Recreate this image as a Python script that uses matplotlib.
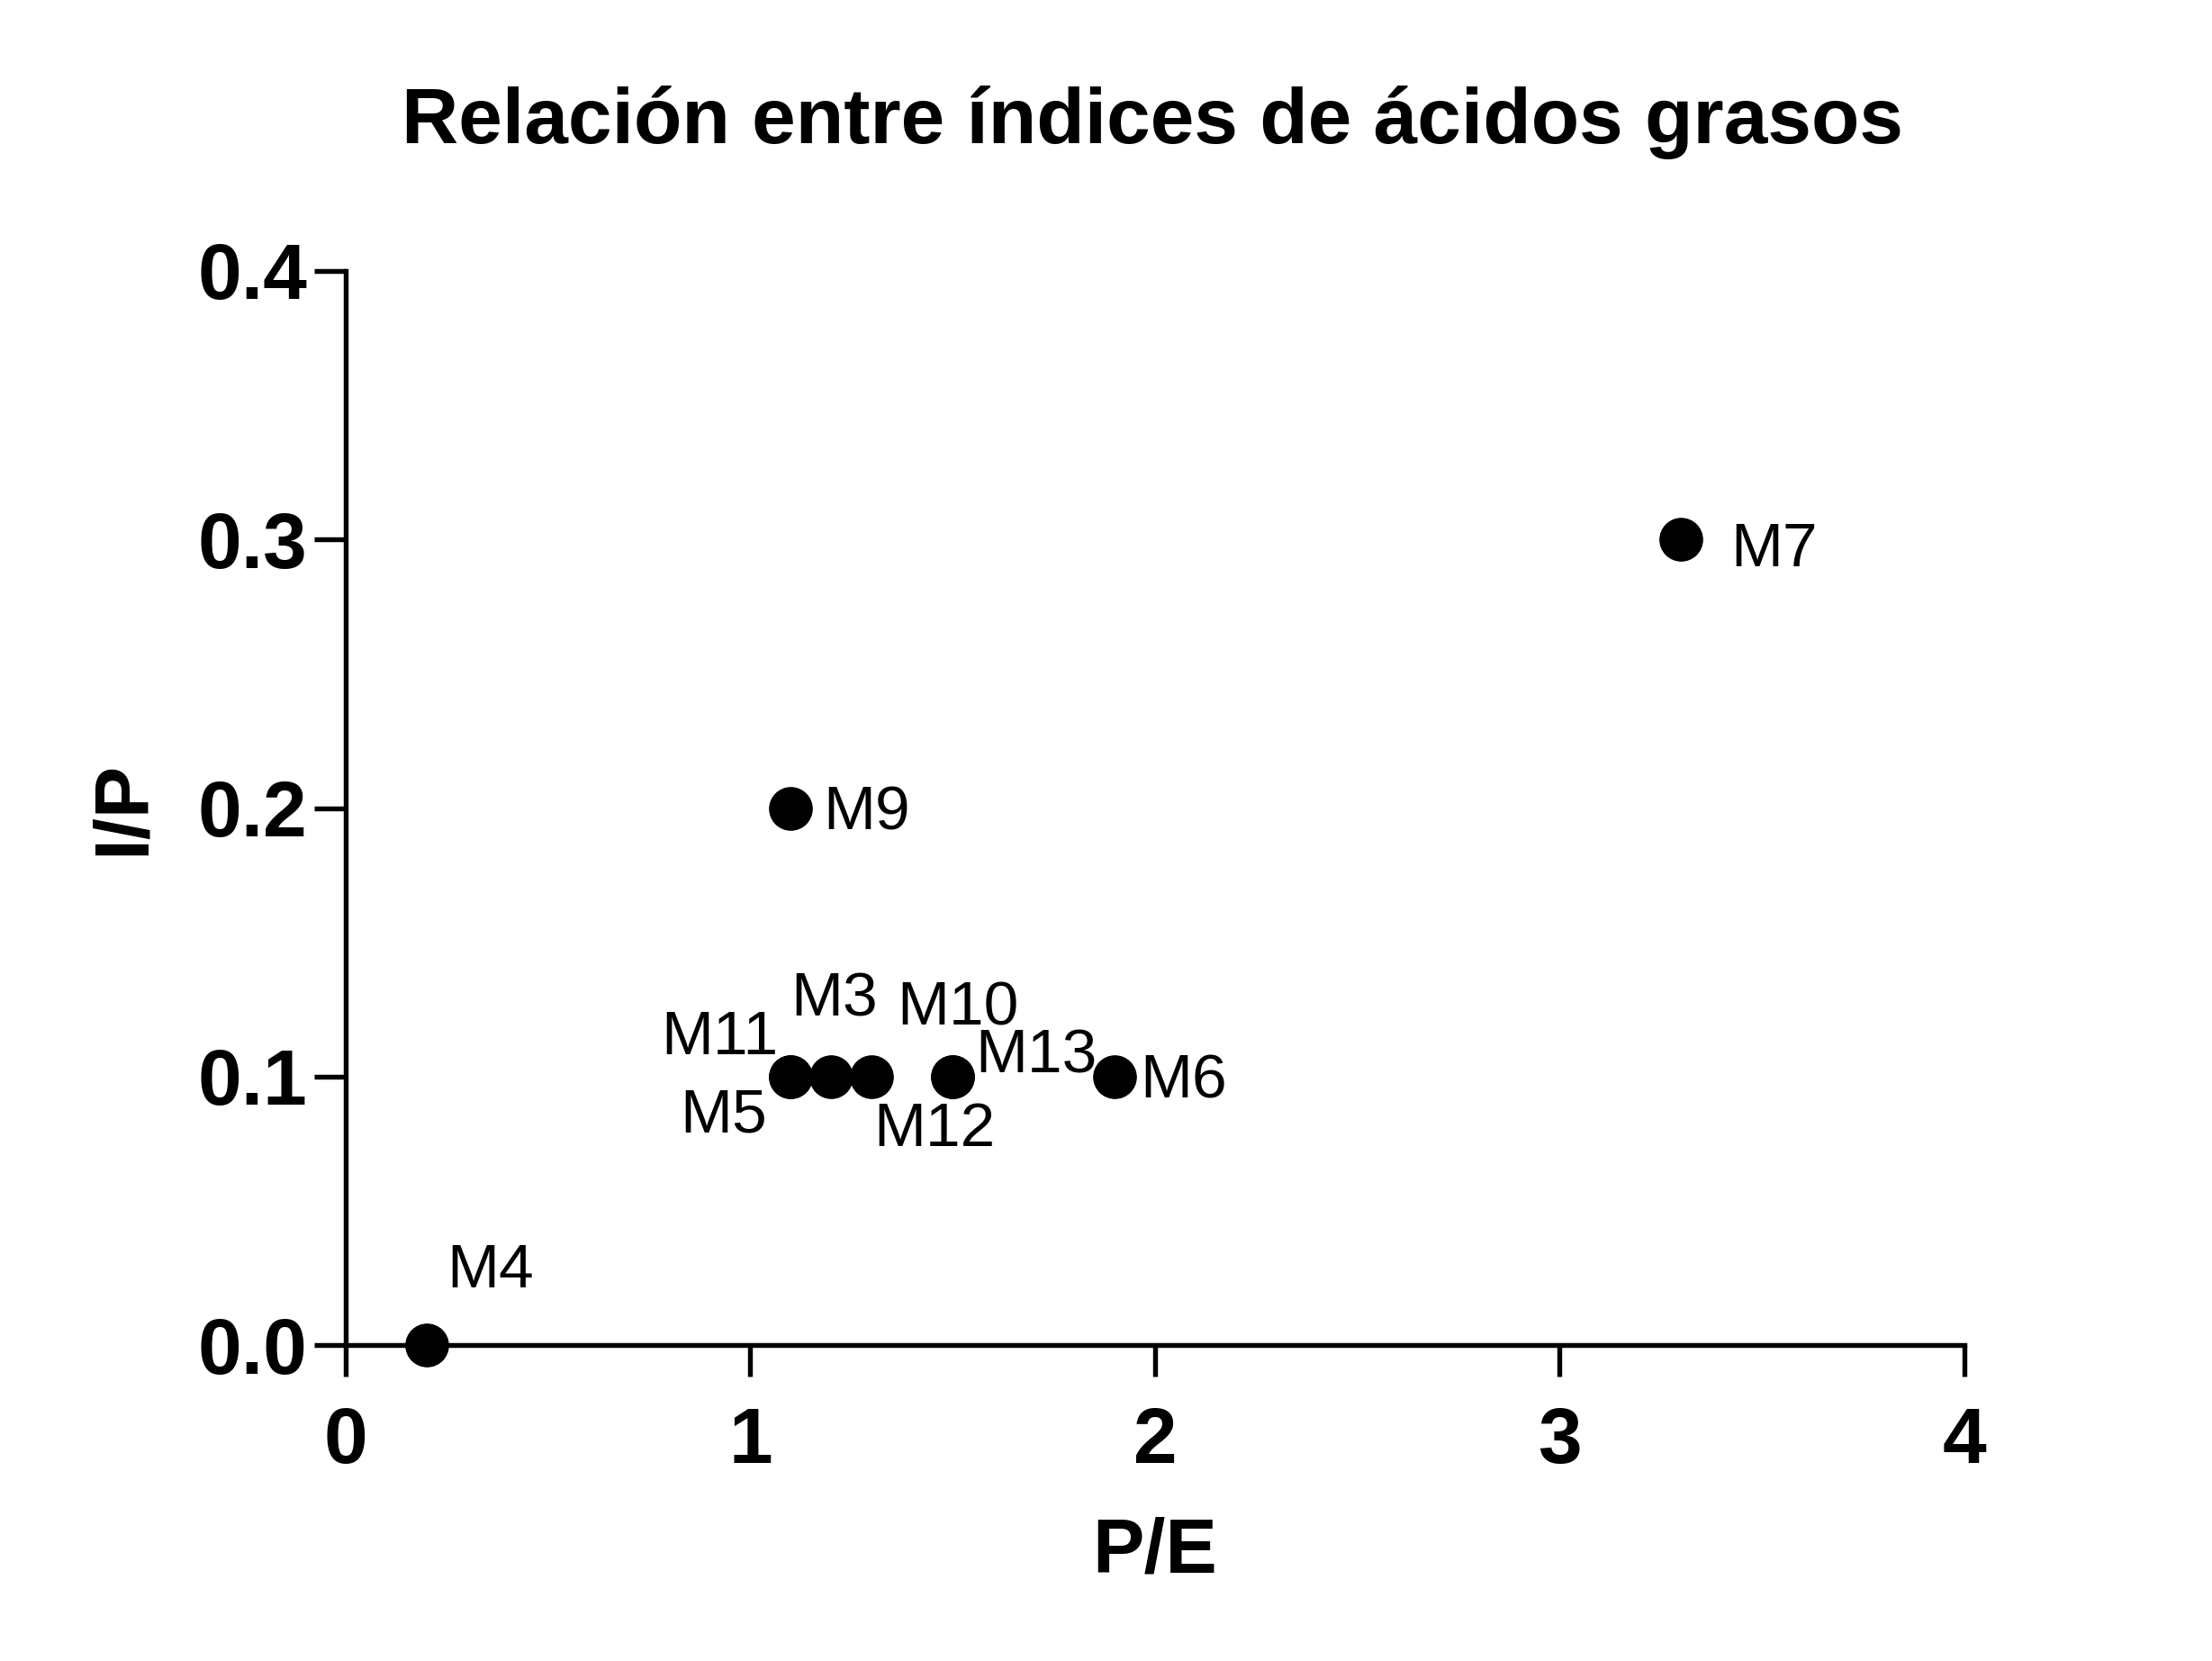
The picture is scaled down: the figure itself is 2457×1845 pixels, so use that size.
import matplotlib
matplotlib.use("Agg")
import matplotlib.pyplot as plt

plt.rcParams['font.family'] = ['Liberation Sans', 'DejaVu Sans']

# Data
labels = ["M4", "M11", "M5", "M3", "M12", "M10", "M13", "M6", "M9", "M7"]
pe = [0.2, 1.1, 1.1, 1.2, 1.3, 1.5, 1.5, 1.9, 1.1, 3.3]
ip = [0.0, 0.1, 0.1, 0.1, 0.1, 0.1, 0.1, 0.1, 0.2, 0.3]
xticks = [0, 1, 2, 3, 4]
yticks = [0.0, 0.1, 0.2, 0.3, 0.4]
ytick_labels = ["0.0", "0.1", "0.2", "0.3", "0.4"]

# label layout (offset pixels, ha)
label_layout = {
    "M4": (22, 82, "left"),
    "M11": (-14, 43, "right"),
    "M5": (-75, -44, "center"),
    "M3": (3, 85, "center"),
    "M12": (70, -59, "center"),
    "M10": (6, 75, "center"),
    "M13": (25, 22, "left"),
    "M6": (28, -6, "left"),
    "M9": (36, -6, "left"),
    "M7": (55, -12, "left"),
}

fig = plt.figure(figsize=(24.57, 18.45), dpi=100)
ax = fig.add_axes([0.1563, 0.1902, 0.888 - 0.1563, 0.8369 - 0.1902])

ax.plot(pe, ip, linestyle='none', marker='o', markersize=34, color='black',
        clip_on=False, zorder=5)

for lab, x, y in zip(labels, pe, ip):
    dx, dy, ha = label_layout[lab]
    ax.annotate(lab, (x, y), xytext=(dx, dy), textcoords='offset pixels',
                ha=ha, va='center', fontsize=50, color='black')

ax.set_xlim(0, 4)
ax.set_ylim(0, 0.4)
ax.set_xticks(xticks)
ax.set_yticks(yticks)
ax.set_yticklabels(ytick_labels)
for s in ['top', 'right']:
    ax.spines[s].set_visible(False)
for s in ['left', 'bottom']:
    ax.spines[s].set_linewidth(3.9)
ax.tick_params(axis='both', length=25, width=3.9, direction='out', labelsize=63)
ax.tick_params(axis='x', pad=24)
ax.tick_params(axis='y', pad=6)
for t in ax.get_xticklabels() + ax.get_yticklabels():
    t.set_fontweight('bold')

ax.set_xlabel("P/E", fontsize=62, fontweight='bold', labelpad=30)
ax.set_ylabel("I/P", fontsize=62, fontweight='bold', labelpad=30)

fig.text(0.521, 1 - 136 / 1845, "Relación entre índices de ácidos grasos",
         ha='center', va='center', fontsize=63, fontweight='bold')

fig.savefig("out.png", dpi=100, facecolor='white')
